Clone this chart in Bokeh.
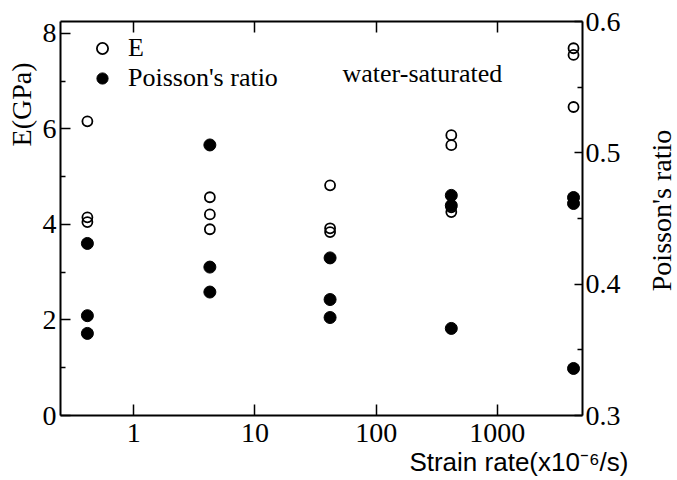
import math
from bokeh.plotting import figure
from bokeh.layouts import row
from bokeh.models import (Range1d, LinearAxis, LogAxis, FixedTicker, Legend,
                          LegendItem, NumeralTickFormatter, Title)
from bokeh.core.properties import value
from bokeh.embed import file_html
from bokeh.resources import INLINE

# ---- data ----
e_rate = [0.415, 0.415, 0.415, 4.25, 4.25, 4.25, 41.7, 41.7, 41.7,
          417, 417, 417, 417, 4250, 4250, 4250]
e_gpa = [6.16, 4.15, 4.05, 4.57, 4.21, 3.90, 4.82, 3.92, 3.84,
         5.87, 5.66, 4.36, 4.26, 7.69, 7.55, 6.46]

nu_rate = [0.415, 0.415, 0.415, 4.25, 4.25, 4.25, 41.7, 41.7, 41.7,
           417, 417, 417, 4250, 4250, 4250]
nu_val = [0.431, 0.376, 0.3625, 0.506, 0.413, 0.394, 0.420, 0.3883, 0.3746,
          0.4676, 0.4599, 0.3663, 0.466, 0.4614, 0.3358]

x_ticks = [1, 10, 100, 1000]
e_ticks = [0, 2, 4, 6, 8]
e_minor = [1, 3, 5, 7]
nu_ticks = [0.3, 0.4, 0.5, 0.6]
nu_minor = [0.35, 0.45, 0.55]

SERIF = "Liberation Serif, serif"
SANS = "Liberation Sans"

X_LO, X_HI = 0.249, 5040
E_LO, E_HI = 0, 8.25

# frame edges (pixels) of the reference
F_LEFT, F_RIGHT, F_TOP, F_BOTTOM = 60, 582, 21, 415
H = 480

MAIN_W = 640
p = figure(width=MAIN_W, height=H, x_axis_type="log",
           x_range=Range1d(X_LO, X_HI), y_range=Range1d(E_LO, E_HI),
           output_backend="svg", toolbar_location=None,
           min_border_left=F_LEFT, min_border_right=MAIN_W - F_RIGHT,
           min_border_top=F_TOP, min_border_bottom=H - F_BOTTOM)
p.extra_y_ranges = {"nu": Range1d(0.3, 0.6)}
p.xgrid.visible = False
p.ygrid.visible = False
p.outline_line_color = None
p.background_fill_color = "white"
p.border_fill_color = "white"

def style_axis(ax, tick_in, minor_in, font_size, standoff):
    ax.axis_line_color = "black"
    ax.axis_line_width = 2
    ax.major_tick_line_color = "black"
    ax.major_tick_line_width = 1.5
    ax.minor_tick_line_color = "black"
    ax.minor_tick_line_width = 1.5
    ax.major_tick_in = tick_in
    ax.major_tick_out = 0
    ax.minor_tick_in = minor_in
    ax.minor_tick_out = 0
    ax.major_label_text_font = SERIF
    ax.major_label_text_font_size = font_size
    ax.major_label_text_color = "black"
    ax.major_label_standoff = standoff

# bottom
xb = p.xaxis[0]
xb.ticker = FixedTicker(ticks=x_ticks, minor_ticks=[])
xb.formatter = NumeralTickFormatter(format="0")
style_axis(xb, 11, 0, "28px", 8)

# left
yl = p.yaxis[0]
yl.ticker = FixedTicker(ticks=e_ticks, minor_ticks=e_minor)
style_axis(yl, 10, 5, "28px", 4)

# right
yr = LinearAxis(y_range_name="nu", ticker=FixedTicker(ticks=nu_ticks, minor_ticks=nu_minor))
style_axis(yr, 8, 5, "28px", 3)
p.add_layout(yr, "right")

# top (ticks only)
xt = LogAxis(ticker=FixedTicker(ticks=x_ticks, minor_ticks=[]))
style_axis(xt, 11, 0, "1px", 0)
xt.major_label_text_color = None
p.add_layout(xt, "above")

# axis titles as side-panel titles
p.add_layout(Title(text="E(GPa)", align="right", offset=41, standoff=6,
                   text_font=SERIF, text_font_size="28px",
                   text_font_style="normal", text_color="black"), "left")
p.add_layout(Title(text="Strain rate(x10\u207b\u2076/s)", align="right", offset=-46, standoff=0,
                   text_font=SANS, text_font_size="26px", text_font_style="normal",
                   text_color="black"), "below")

# points
r_e = p.scatter(e_rate, e_gpa, marker="circle", size=10, fill_alpha=0,
                line_color="black", line_width=1.8)
r_nu = p.scatter(nu_rate, nu_val, marker="circle", size=12, y_range_name="nu",
                 fill_color="black", line_color="black")

legend = Legend(items=[LegendItem(label="E", renderers=[r_e]),
                       LegendItem(label="Poisson's ratio", renderers=[r_nu])],
                location=(28, 322), padding=0, spacing=0, margin=0,
                glyph_width=28, glyph_height=28, label_height=28, label_standoff=12,
                label_text_font=SERIF, label_text_font_size="26px",
                label_text_color="black",
                background_fill_alpha=0, border_line_alpha=0)
p.add_layout(legend, "center")

# in-plot note, placed at a fraction of the frame
fx = (342 - F_LEFT) / (F_RIGHT - F_LEFT)
fy = (F_BOTTOM - 73) / (F_BOTTOM - F_TOP)
note_x = 10 ** (math.log10(X_LO) + fx * (math.log10(X_HI) - math.log10(X_LO)))
note_y = E_LO + fy * (E_HI - E_LO)
p.text(x=[note_x], y=[note_y], text=["water-saturated"], text_font=value(SERIF),
       text_font_size="26px", text_baseline="alphabetic", text_align="left",
       text_color="black")

# right-hand axis title strip (reads bottom-to-top, as in the reference)
SIDE_W = 677 - MAIN_W
side = figure(width=SIDE_W, height=H, x_range=Range1d(0, 1), y_range=Range1d(0, 1),
              output_backend="svg", toolbar_location=None,
              x_axis_location=None, y_axis_location=None,
              min_border_left=0, min_border_right=0,
              min_border_top=F_TOP, min_border_bottom=H - F_BOTTOM)
side.xgrid.visible = False
side.ygrid.visible = False
side.outline_line_color = None
side.background_fill_color = "white"
side.border_fill_color = "white"
side.text(x=[(661 - MAIN_W) / SIDE_W], y=[(F_BOTTOM - 210) / (F_BOTTOM - F_TOP)],
          text=["Poisson's ratio"],
          angle=math.pi / 2, text_font=value(SERIF), text_font_size="28px",
          text_align="center", text_baseline="middle", text_color="black")

layout = row(p, side, spacing=0)
open("out.html", "w").write(file_html(layout, INLINE))
